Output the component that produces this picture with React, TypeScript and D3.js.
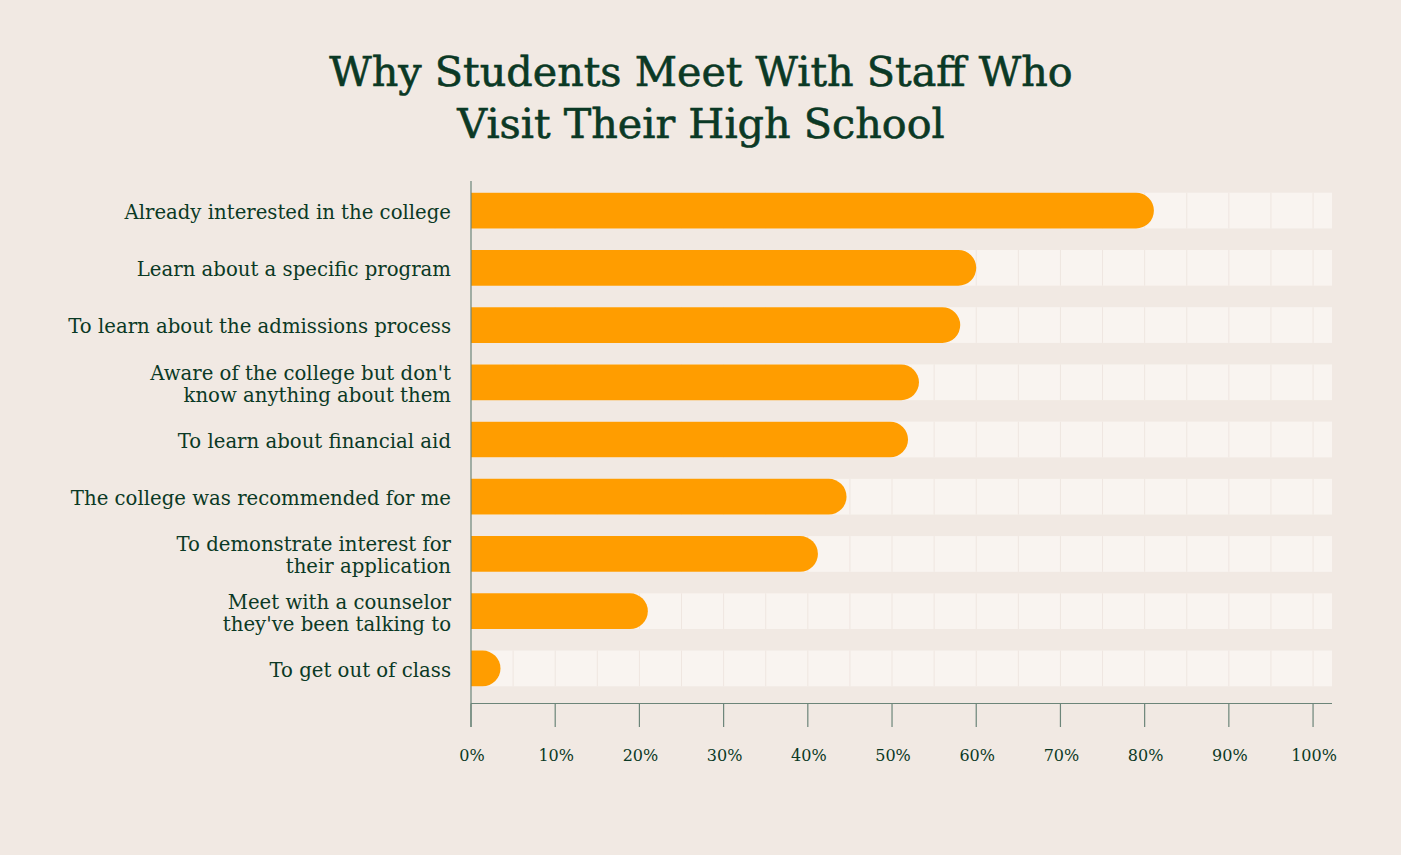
import React from "react";
import * as d3 from "d3";

const categories: string[][] = [
  ["Already interested in the college"],
  ["Learn about a specific program"],
  ["To learn about the admissions process"],
  ["Aware of the college but don't", "know anything about them"],
  ["To learn about financial aid"],
  ["The college was recommended for me"],
  ["To demonstrate interest for", "their application"],
  ["Meet with a counselor", "they've been talking to"],
  ["To get out of class"],
];
const values: number[] = [81.1, 60, 58.1, 53.2, 51.9, 44.6, 41.2, 21, 3.5];
const ticks: number[] = [0, 10, 20, 30, 40, 50, 60, 70, 80, 90, 100];
const gridLines: number[] = d3.range(5, 105, 5);
const titleLines: string[] = ["Why Students Meet With Staff Who", "Visit Their High School"];

const W = 1401;
const H = 855;
const BG = "#f1e9e3";
const TRACK = "#f9f4f0";
const BAR = "#ff9d00";
const TEXT = "#0b3925";
const AXIS = "#6c8579";
const FONT = "'DejaVu Serif', serif";

export default function App() {
  const x = d3.scaleLinear().domain([0, 102.25]).range([471, 1332]);
  const y = d3
    .scaleBand<number>()
    .domain(d3.range(categories.length))
    .range([182, 697])
    .paddingInner(0.376)
    .paddingOuter(0.188);
  const bh = y.bandwidth();
  const r = bh / 2;
  const axisY = 703.5;

  const barPath = (v: number, i: number) => {
    const x0 = x(0);
    const x1 = x(v);
    const top = y(i)!;
    const bot = top + bh;
    const rr = Math.min(r, x1 - x0);
    return `M${x0},${top}H${x1 - rr}A${rr},${r} 0 0 1 ${x1},${top + r}A${rr},${r} 0 0 1 ${x1 - rr},${bot}H${x0}Z`;
  };

  return (
    <svg
      width={W}
      height={H}
      style={{ position: "fixed", left: 0, top: 0, display: "block" }}
      fontFamily={FONT}
    >
      <rect width={W} height={H} fill={BG} />
      {titleLines.map((t, i) => (
        <text
          key={i}
          x={701}
          y={85.5 + i * 52}
          textAnchor="middle"
          fontSize={41.3}
          fill={TEXT}
          stroke={TEXT}
          strokeWidth={0.6}
        >
          {t}
        </text>
      ))}
      {categories.map((_, i) => (
        <rect key={"t" + i} x={x(0)} y={y(i)!} width={x(102.25) - x(0)} height={bh} fill={TRACK} />
      ))}
      {categories.map((_, i) =>
        gridLines.map((g) => (
          <line
            key={"g" + i + "-" + g}
            x1={x(g)}
            x2={x(g)}
            y1={y(i)!}
            y2={y(i)! + bh}
            stroke="#efe6e0"
            strokeWidth={1}
          />
        ))
      )}
      {values.map((v, i) => (
        <path key={"b" + i} d={barPath(v, i)} fill={BAR} />
      ))}
      {categories.map((lines, i) => {
        const cy = y(i)! + r;
        const lh = 22;
        const start = cy - ((lines.length - 1) * lh) / 2 + 1.5;
        return (
          <text key={"l" + i} textAnchor="end" fontSize={19.7} fill={TEXT}>
            {lines.map((ln, j) => (
              <tspan key={j} x={451} y={start + j * lh} dy="0.35em">
                {ln}
              </tspan>
            ))}
          </text>
        );
      })}
      <line x1={x(0)} x2={x(0)} y1={181} y2={727} stroke={AXIS} strokeWidth={1.2} />
      <line x1={x(0)} x2={x(102.25)} y1={axisY} y2={axisY} stroke={AXIS} strokeWidth={1.2} />
      {ticks.map((t) => (
        <g key={"k" + t}>
          <line x1={x(t)} x2={x(t)} y1={axisY} y2={727} stroke={AXIS} strokeWidth={1.2} />
          <text x={x(t) + 1} y={761} textAnchor="middle" fontSize={16} fill={TEXT}>
            {t}%
          </text>
        </g>
      ))}
    </svg>
  );
}
